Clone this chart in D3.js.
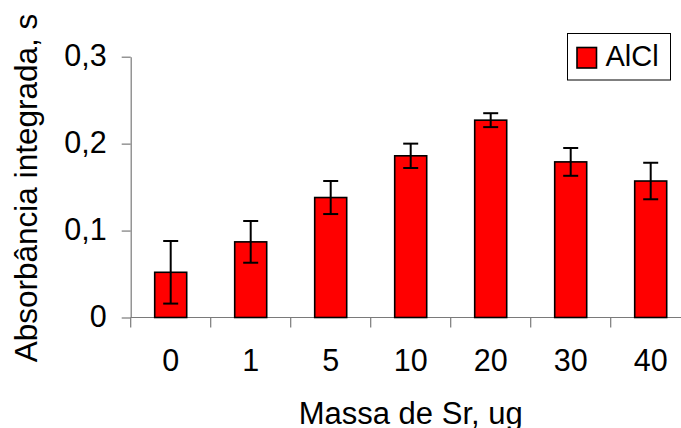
<!DOCTYPE html>
<html>
<head>
<meta charset="utf-8">
<script src="https://cdn.jsdelivr.net/npm/d3@7/dist/d3.min.js"></script>
<style>
  html, body { margin: 0; padding: 0; background: #fff; }
  svg { display: block; font-family: "Liberation Sans", Arial, sans-serif; }
</style>
</head>
<body>
<svg id="chart" width="681" height="428"></svg>
<script>
// Sr mass added (ug) and mean integrated absorbance with its standard deviation
const categories = ["0", "1", "5", "10", "20", "30", "40"];
const absorbance = [0.052, 0.087, 0.138, 0.186, 0.227, 0.179, 0.157];
const deviation  = [0.036, 0.024, 0.019, 0.014, 0.008, 0.016, 0.021];
const yTicks = [0, 0.1, 0.2, 0.3];
const seriesName = "AlCl";
const xTitle = "Massa de Sr, ug";
const yTitle = "Absorbância integrada, s";

const svg = d3.select("#chart");
const plotLeft = 130.7, plotRight = 690.7, plotTop = 56.7, plotBottom = 317.5;
const axisColor = "#7a7a7a";
const fontSize = 30.5;

const x = d3.scaleBand().domain(categories).range([plotLeft, plotRight])
  .paddingInner(0.6).paddingOuter(0.3);
const y = d3.scaleLinear().domain([0, 0.3]).range([plotBottom, plotTop]);
const fmt = d => d === 0 ? "0" : d3.format(".1f")(d).replace(".", ",");

// Y axis
const gy = svg.append("g").attr("transform", `translate(${plotLeft},0)`)
  .call(d3.axisLeft(y).tickValues(yTicks).tickFormat(fmt).tickSize(9).tickSizeOuter(0).tickPadding(15));
gy.select(".domain").attr("stroke", axisColor).attr("stroke-width", 1.2);
gy.selectAll(".tick line").attr("stroke", axisColor).attr("stroke-width", 1.2);
gy.selectAll(".tick text").attr("font-size", fontSize).attr("fill", "#000")
  .attr("font-family", "Liberation Sans, Arial, sans-serif").attr("dy", "0.3em");

// X axis: labels at category centres, ticks at category boundaries
const step = x.step();
const boundaries = categories.map(c => x(c) + x.bandwidth() / 2 - step / 2);
const gx = svg.append("g").attr("transform", `translate(0,${plotBottom})`);
gx.append("line").attr("x1", plotLeft).attr("x2", plotRight).attr("y1", 0).attr("y2", 0)
  .attr("stroke", axisColor).attr("stroke-width", 1.2);
gx.selectAll("line.tk").data(boundaries).join("line").attr("class", "tk")
  .attr("x1", d => d).attr("x2", d => d).attr("y1", 0).attr("y2", 10)
  .attr("stroke", axisColor).attr("stroke-width", 1.2);
gx.selectAll("text").data(categories).join("text")
  .attr("x", d => x(d) + x.bandwidth() / 2).attr("y", 53.5)
  .attr("text-anchor", "middle").attr("font-size", fontSize).text(d => d);

// Bars
svg.append("g").selectAll("rect").data(categories).join("rect")
  .attr("x", d => x(d)).attr("width", x.bandwidth())
  .attr("y", (d, i) => y(absorbance[i]))
  .attr("height", (d, i) => y(0) - y(absorbance[i]))
  .attr("fill", "#ff0000").attr("stroke", "#000").attr("stroke-width", 1.6);

// Error bars
const capW = 15;
const eb = svg.append("g").attr("stroke", "#000").attr("stroke-width", 2);
categories.forEach((c, i) => {
  const cx = x(c) + x.bandwidth() / 2;
  const hi = y(absorbance[i] + deviation[i]);
  const lo = y(absorbance[i] - deviation[i]);
  eb.append("line").attr("x1", cx).attr("x2", cx).attr("y1", hi).attr("y2", lo);
  eb.append("line").attr("x1", cx - capW / 2).attr("x2", cx + capW / 2).attr("y1", hi).attr("y2", hi);
  eb.append("line").attr("x1", cx - capW / 2).attr("x2", cx + capW / 2).attr("y1", lo).attr("y2", lo);
});

// Axis titles
svg.append("text").attr("x", (plotLeft + plotRight) / 2).attr("y", 423.5)
  .attr("text-anchor", "middle").attr("font-size", 31).text(xTitle);
svg.append("text").attr("transform", "translate(37,188) rotate(-90)")
  .attr("text-anchor", "middle").attr("font-size", 31.5).text(yTitle);

// Legend
const lg = svg.append("g");
lg.append("rect").attr("x", 567.5).attr("y", 33.5).attr("width", 103).attr("height", 46.5)
  .attr("fill", "#fff").attr("stroke", "#000").attr("stroke-width", 1);
lg.append("rect").attr("x", 577).attr("y", 47.5).attr("width", 19.5).attr("height", 20.5)
  .attr("fill", "#ff0000").attr("stroke", "#000").attr("stroke-width", 1.6);
lg.append("text").attr("x", 605.5).attr("y", 66).attr("font-size", 29).text(seriesName);
</script>
</body>
</html>
